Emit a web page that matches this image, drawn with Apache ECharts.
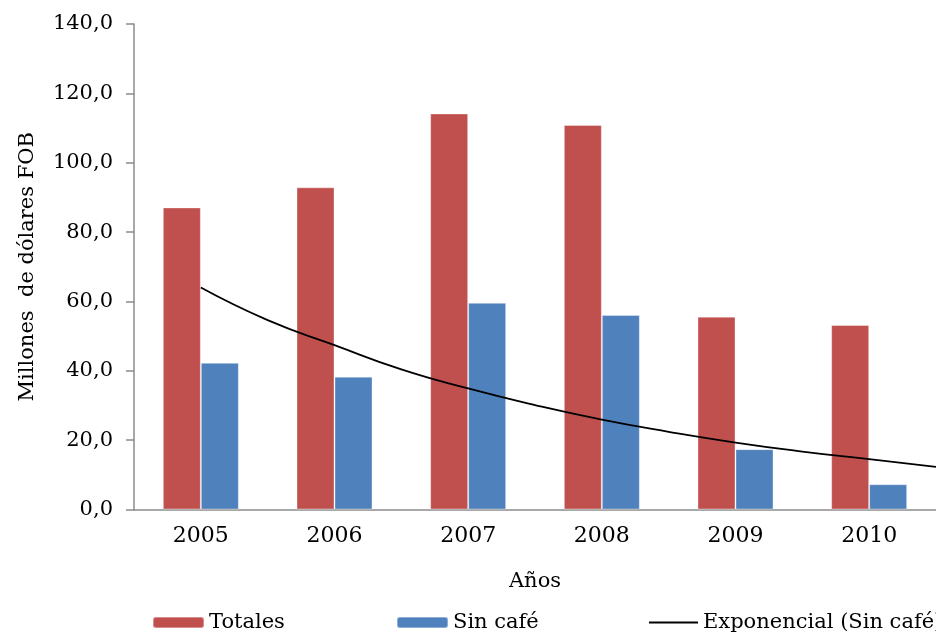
<!DOCTYPE html>
<html>
<head>
<meta charset="utf-8">
<script src="https://cdn.jsdelivr.net/npm/echarts@6/dist/echarts.min.js"></script>
<style>
  html, body { margin: 0; padding: 0; background: #fff; }
  #chart { width: 936px; height: 633px; }
</style>
</head>
<body>
<div id="chart"></div>
<script>
  const years = ['2005', '2006', '2007', '2008', '2009', '2010'];
  const totales = [87.1, 92.9, 114.2, 110.9, 55.6, 53.2];
  const sinCafe = [42.3, 38.3, 59.6, 56.1, 17.4, 7.3];
  // trend line, x in category units (0 = 2005)
  const trendX = [0, 0.5, 1, 1.5, 2, 2.5, 3, 3.5, 4, 4.5, 5, 5.5];
  const trendY = [64.0, 54.6, 47.4, 40.4, 34.9, 30.1, 25.9, 22.4, 19.3, 16.7, 14.5, 12.3];
  const yTicks = [0, 20, 40, 60, 80, 100, 120, 140];

  const font = 'DejaVu Serif';
  const axisGray = '#8c8c8c';

  const chart = echarts.init(document.getElementById('chart'));

  const legendBase = {
    top: 612,
    padding: 0,
    orient: 'horizontal',
    itemWidth: 51,
    itemHeight: 11,
    itemGap: 6,
    textStyle: { fontFamily: font, fontSize: 21, color: '#000', padding: [0, 0, 0, 0] },
    selectedMode: false,
  };

  chart.setOption({
    animation: false,
    grid: { left: 134, right: 0, top: 24, bottom: 123.5, containLabel: false },
    legend: [
      { ...legendBase, left: 152, data: ['Totales'] },
      { ...legendBase, left: 396, data: ['Sin café'] },
      {
        ...legendBase,
        left: 649,
        itemWidth: 49,
        itemHeight: 2,
        data: [{ name: 'Exponencial (Sin café)', icon: 'rect', itemStyle: { color: '#000' } }],
      },
    ],
    xAxis: [
      {
        type: 'category',
        data: years,
        name: 'Años',
        nameLocation: 'middle',
        nameGap: 62,
        nameTextStyle: { fontFamily: font, fontSize: 21, color: '#000' },
        axisLine: { lineStyle: { color: axisGray, width: 1.5 } },
        axisTick: { length: 5, lineStyle: { color: axisGray, width: 1.5 } },
        axisLabel: { fontFamily: font, fontSize: 22, color: '#000', margin: 16 },
      },
      {
        type: 'value',
        min: -0.5,
        max: 5.5,
        show: false,
      },
    ],
    yAxis: {
      type: 'value',
      min: 0,
      max: 140,
      interval: 20,
      name: 'Millones  de dólares FOB',
      nameLocation: 'middle',
      nameGap: 96,
      nameTextStyle: { fontFamily: font, fontSize: 21, color: '#000' },
      axisLine: { show: true, onZero: false, lineStyle: { color: axisGray, width: 1.5 } },
      axisTick: { show: true, length: 8, lineStyle: { color: axisGray, width: 1.5 } },
      splitLine: { show: false },
      axisLabel: {
        fontFamily: font,
        fontSize: 21,
        color: '#000',
        margin: 21,
        formatter: (v) => (yTicks.includes(v) ? v.toFixed(1).replace('.', ',') : ''),
      },
    },
    series: [
      {
        name: 'Totales',
        type: 'bar',
        data: totales,
        barWidth: 38,
        barGap: '0%',
        itemStyle: { color: '#C0504D', borderColor: 'rgba(255,255,255,0.35)', borderWidth: 1 },
      },
      {
        name: 'Sin café',
        type: 'bar',
        data: sinCafe,
        barWidth: 38,
        barGap: '0%',
        itemStyle: { color: '#4F81BD', borderColor: 'rgba(255,255,255,0.35)', borderWidth: 1 },
      },
      {
        name: 'Exponencial (Sin café)',
        type: 'line',
        xAxisIndex: 1,
        data: trendX.map((x, i) => [x, trendY[i]]),
        smooth: true,
        symbol: 'none',
        lineStyle: { color: '#000', width: 1.8 },
        itemStyle: { color: '#000' },
        z: 5,
      },
    ],
  });
</script>
</body>
</html>
